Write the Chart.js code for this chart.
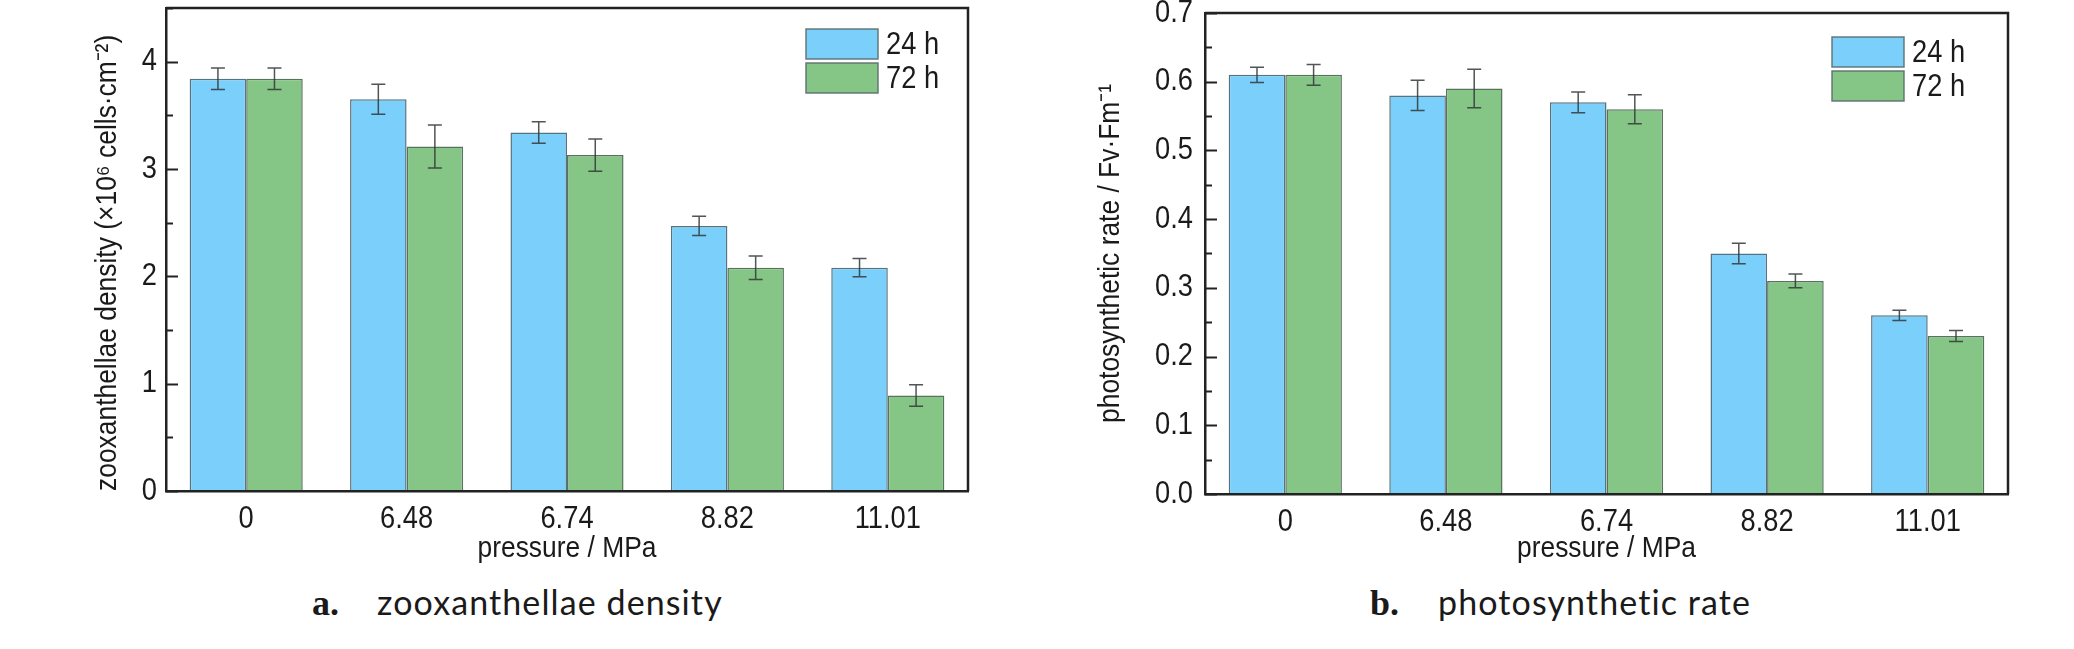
<!DOCTYPE html>
<html><head><meta charset="utf-8">
<script src="https://cdn.jsdelivr.net/npm/chart.js@4.4.1/dist/chart.umd.min.js"></script>
<style>
html,body{margin:0;padding:0;background:#fff;width:2074px;height:649px;overflow:hidden;position:relative}
canvas{position:absolute;top:0}
#c1{left:0}
#c2{left:1037px}
.lab{position:absolute;top:585px;white-space:nowrap;color:#1a1a1a;line-height:1}
.lab b{font-family:'Liberation Serif','DejaVu Serif',serif;font-weight:bold;font-size:36px}
.lab span{font-family:Lato,'Noto Sans',sans-serif;font-size:34px;letter-spacing:1.1px}
</style></head><body>
<canvas id="c1" width="1037" height="580"></canvas>
<canvas id="c2" width="1037" height="580"></canvas>
<div class="lab" style="left:312px"><b>a.</b></div>
<div class="lab" style="left:377px"><span>zooxanthellae density</span></div>
<div class="lab" style="left:1370px"><b>b.</b></div>
<div class="lab" style="left:1438px"><span>photosynthetic rate</span></div>
<script>
// ---- data ----
const categories = ['0', '6.48', '6.74', '8.82', '11.01'];
const seriesLabels = ['24 h', '72 h'];
const density24 = [3.84, 3.65, 3.34, 2.47, 2.08];
const density24Err = [0.10, 0.14, 0.10, 0.09, 0.085];
const density72 = [3.84, 3.21, 3.13, 2.08, 0.89];
const density72Err = [0.10, 0.20, 0.15, 0.11, 0.10];
const photo24 = [0.61, 0.58, 0.57, 0.35, 0.26];
const photo24Err = [0.011, 0.022, 0.015, 0.015, 0.0075];
const photo72 = [0.61, 0.59, 0.56, 0.31, 0.23];
const photo72Err = [0.015, 0.028, 0.021, 0.010, 0.008];
const xTitle = 'pressure / MPa';
const densityTitle = 'zooxanthellae density (\u00d710\u2076 cells\u00b7cm\u207b\u00b2)';
const photoTitle = 'photosynthetic rate / Fv\u00b7Fm\u207b\u00b9';

// ---- styles ----
const NARROW = "'Liberation Sans',Arial,sans-serif";
const CONDENSE = 0.88;           // horizontal condensing of the sans text (reference uses a condensed face)
const TXT = '#1a1a1a';
const BLUE = '#7bcffb', GREEN = '#85c585';
const BLUE_B = 'rgba(45,80,95,0.8)', GREEN_B = 'rgba(45,80,55,0.8)';

const condensedText = {
  id: 'condensedText',
  beforeInit(chart) {
    const ctx = chart.ctx;
    if (ctx.__condensed) return;
    const orig = ctx.fillText.bind(ctx);
    ctx.fillText = function (t, x, y, mw) {
      if (this.font.indexOf('Liberation Sans') >= 0) {
        this.save();
        this.translate(x, y);
        this.scale(CONDENSE, 1);
        if (mw !== undefined && mw !== null) orig(t, 0, 0, mw / CONDENSE); else orig(t, 0, 0);
        this.restore();
      } else if (mw !== undefined && mw !== null) orig(t, x, y, mw); else orig(t, x, y);
    };
    ctx.__condensed = true;
  }
};

const decor = {
  id: 'decor',
  afterDatasetsDraw(chart, args, o) {
    const {ctx, scales: {y}} = chart;
    ctx.save();
    ctx.strokeStyle = 'rgba(50,55,55,0.85)';
    ctx.lineWidth = 1.5;
    chart.data.datasets.forEach((ds, di) => {
      const meta = chart.getDatasetMeta(di);
      meta.data.forEach((bar, i) => {
        const v = ds.data[i], e = o.errors[di][i];
        const yt = y.getPixelForValue(v + e), yb = y.getPixelForValue(v - e);
        ctx.beginPath();
        ctx.moveTo(bar.x, yt); ctx.lineTo(bar.x, yb);
        ctx.moveTo(bar.x - 7, yt); ctx.lineTo(bar.x + 7, yt);
        ctx.moveTo(bar.x - 7, yb); ctx.lineTo(bar.x + 7, yb);
        ctx.stroke();
      });
    });
    ctx.restore();
  },
  afterDraw(chart, args, o) {
    const {ctx, chartArea: a, scales: {y}} = chart;
    ctx.save();
    ctx.strokeStyle = '#222';
    ctx.lineWidth = 2.5;
    ctx.beginPath();
    ctx.moveTo(a.left, a.top); ctx.lineTo(a.right, a.top); ctx.lineTo(a.right, a.bottom);
    ctx.stroke();
    // inward ticks
    ctx.lineWidth = 2;
    const n = Math.round(y.max / o.minorStep);
    for (let k = 0; k <= n; k++) {
      const v = k * o.minorStep;
      const major = Math.abs(v / o.majorStep - Math.round(v / o.majorStep)) < 1e-6;
      const py = Math.round(y.getPixelForValue(v)) + 0.5;
      ctx.beginPath();
      ctx.moveTo(a.left, py); ctx.lineTo(a.left + (major ? 12 : 7), py);
      ctx.stroke();
    }
    // legend
    const L = o.legend;
    chart.data.datasets.forEach((ds, di) => {
      const bx = a.right - L.fromRight, by = a.top + L.top + di * 34;
      ctx.fillStyle = ds.backgroundColor;
      ctx.fillRect(bx, by, 72, 30);
      ctx.strokeStyle = 'rgba(90,110,110,0.9)';
      ctx.lineWidth = 1.5;
      ctx.strokeRect(bx, by, 72, 30);
      ctx.fillStyle = TXT;
      ctx.font = '31px ' + NARROW;
      ctx.textBaseline = 'middle';
      ctx.textAlign = 'left';
      ctx.fillText(ds.label, bx + 80, by + 16);
    });
    ctx.restore();
  }
};

function makeChart(id, d) {
  return new Chart(document.getElementById(id), {
    type: 'bar',
    data: {
      labels: categories,
      datasets: [
        {label: seriesLabels[0], data: d.v24, backgroundColor: BLUE, borderColor: BLUE_B, borderWidth: 1.5},
        {label: seriesLabels[1], data: d.v72, backgroundColor: GREEN, borderColor: GREEN_B, borderWidth: 1.5}
      ]
    },
    options: {
      responsive: false,
      animation: false,
      devicePixelRatio: 1,
      categoryPercentage: 0.705,
      barPercentage: 1.0,
      layout: {padding: {left: 0, top: d.top, right: d.right, bottom: 0}},
      plugins: {
        legend: {display: false},
        tooltip: {enabled: false},
        decor: {errors: [d.e24, d.e72], minorStep: d.minor, majorStep: d.step, legend: d.legend}
      },
      scales: {
        x: {
          grid: {display: false, drawTicks: false},
          border: {display: true, color: '#222', width: 2.5, z: 1},
          ticks: {color: TXT, font: {family: NARROW, size: 31}, padding: 10, maxRotation: 0},
          title: {display: true, text: xTitle, color: TXT, font: {family: NARROW, size: 30}, padding: {top: 0, bottom: 13}},
          afterFit(s) { s.height = d.xh; s.paddingLeft = 0; s.paddingRight = 0; }
        },
        y: {
          min: 0, max: d.max,
          grid: {display: false, drawTicks: false},
          border: {display: true, color: '#222', width: 2.5, z: 1},
          ticks: {stepSize: d.step, includeBounds: false, color: TXT, font: {family: NARROW, size: 31}, padding: d.tickPad,
                  callback: (v) => v.toFixed(d.dec)},
          title: {display: true, text: d.title, align: d.align, color: TXT, font: {family: NARROW, size: 30}, padding: {top: d.tpad, bottom: 0}},
          afterFit(s) { s.width = d.yw; s.paddingTop = 0; s.paddingBottom = 0; }
        }
      }
    },
    plugins: [condensedText, decor]
  });
}

makeChart('c1', {v24: density24, e24: density24Err, v72: density72, e72: density72Err,
  max: 4.5, step: 1, minor: 0.5, dec: 0, title: densityTitle, tpad: 90, align: 'start', tickPad: 9,
  top: 8, right: 69, yw: 166, xh: 89, legend: {fromRight: 162, top: 21}});
makeChart('c2', {v24: photo24, e24: photo24Err, v72: photo72, e72: photo72Err,
  max: 0.7, step: 0.1, minor: 0.05, dec: 1, title: photoTitle, tpad: 56, align: 'center', tickPad: 12,
  top: 13, right: 66, yw: 168, xh: 86, legend: {fromRight: 176, top: 24}});
</script>
</body></html>
